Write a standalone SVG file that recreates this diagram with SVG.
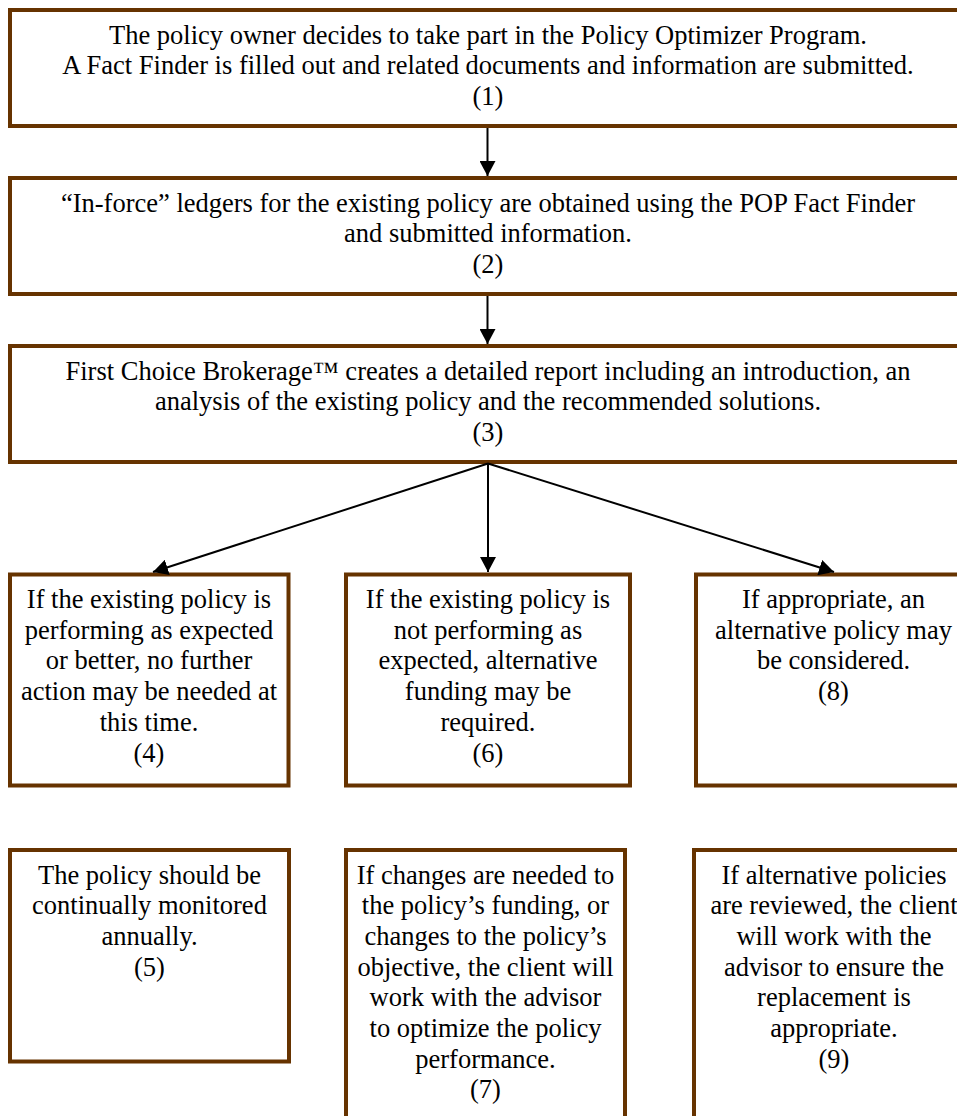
<svg xmlns="http://www.w3.org/2000/svg" width="957" height="1116" viewBox="0 0 957 1116">
<style>
.box{fill:#fff;stroke:#663300;stroke-width:4}
.t{font-family:"Liberation Serif","Times New Roman",serif;font-size:26.5px;fill:#000;text-anchor:middle}
.c{stroke:#000;stroke-width:2;fill:none;marker-end:url(#ah)}
</style>
<defs>
<marker id="ah" markerUnits="userSpaceOnUse" markerWidth="16" markerHeight="16" refX="15" refY="8" orient="auto">
<path d="M0,0 L15,8 L0,16 z" fill="#000"/>
</marker>
</defs>
<rect width="957" height="1116" fill="#fff"/>
<g id="n1">
<rect class="box" x="10" y="10" width="956" height="116"/>
<text class="t" x="488" y="43.5">The policy owner decides to take part in the Policy Optimizer Program.</text>
<text class="t" x="488" y="74.2">A Fact Finder is filled out and related documents and information are submitted.</text>
<text class="t" x="488" y="104.9">(1)</text>
</g>
<g id="n2">
<rect class="box" x="10" y="178" width="956" height="116"/>
<text class="t" x="488" y="211.5">“In-force” ledgers for the existing policy are obtained using the POP Fact Finder</text>
<text class="t" x="488" y="242.2">and submitted information.</text>
<text class="t" x="488" y="272.9">(2)</text>
</g>
<g id="n3">
<rect class="box" x="10" y="346" width="956" height="116"/>
<text class="t" x="488" y="379.5">First Choice Brokerage™ creates a detailed report including an introduction, an</text>
<text class="t" x="488" y="410.2">analysis of the existing policy and the recommended solutions.</text>
<text class="t" x="488" y="440.9">(3)</text>
</g>
<g id="n4">
<rect class="box" x="10" y="574.5" width="278.5" height="211"/>
<text class="t" x="149" y="608">If the existing policy is</text>
<text class="t" x="149" y="638.7">performing as expected</text>
<text class="t" x="149" y="669.4">or better, no further</text>
<text class="t" x="149" y="700.1">action may be needed at</text>
<text class="t" x="149" y="730.8">this time.</text>
<text class="t" x="149" y="761.5">(4)</text>
</g>
<g id="n6">
<rect class="box" x="346" y="574.5" width="284" height="211"/>
<text class="t" x="488" y="608">If the existing policy is</text>
<text class="t" x="488" y="638.7">not performing as</text>
<text class="t" x="488" y="669.4">expected, alternative</text>
<text class="t" x="488" y="700.1">funding may be</text>
<text class="t" x="488" y="730.8">required.</text>
<text class="t" x="488" y="761.5">(6)</text>
</g>
<g id="n8">
<rect class="box" x="696" y="574.5" width="275" height="211"/>
<text class="t" x="833.5" y="608">If appropriate, an</text>
<text class="t" x="833.5" y="638.7">alternative policy may</text>
<text class="t" x="833.5" y="669.4">be considered.</text>
<text class="t" x="833.5" y="700.1">(8)</text>
</g>
<g id="n5">
<rect class="box" x="10" y="850" width="279" height="211.5"/>
<text class="t" x="149.5" y="883.5">The policy should be</text>
<text class="t" x="149.5" y="914.2">continually monitored</text>
<text class="t" x="149.5" y="944.9">annually.</text>
<text class="t" x="149.5" y="975.6">(5)</text>
</g>
<g id="n7">
<rect class="box" x="346" y="850" width="279" height="290"/>
<text class="t" x="485.5" y="883.5">If changes are needed to</text>
<text class="t" x="485.5" y="914.2">the policy’s funding, or</text>
<text class="t" x="485.5" y="944.9">changes to the policy’s</text>
<text class="t" x="485.5" y="975.6">objective, the client will</text>
<text class="t" x="485.5" y="1006.3">work with the advisor</text>
<text class="t" x="485.5" y="1037">to optimize the policy</text>
<text class="t" x="485.5" y="1067.7">performance.</text>
<text class="t" x="485.5" y="1098.4">(7)</text>
</g>
<g id="n9">
<rect class="box" x="694" y="850" width="280" height="290"/>
<text class="t" x="834" y="883.5">If alternative policies</text>
<text class="t" x="834" y="914.2">are reviewed, the client</text>
<text class="t" x="834" y="944.9">will work with the</text>
<text class="t" x="834" y="975.6">advisor to ensure the</text>
<text class="t" x="834" y="1006.3">replacement is</text>
<text class="t" x="834" y="1037">appropriate.</text>
<text class="t" x="834" y="1067.7">(9)</text>
</g>
<g id="connectors">
<line class="c" x1="487.5" y1="128" x2="487.5" y2="176"/>
<line class="c" x1="487.5" y1="296" x2="487.5" y2="344"/>
<line class="c" x1="488" y1="463.5" x2="153" y2="572"/>
<line class="c" x1="488" y1="463.5" x2="488" y2="572"/>
<line class="c" x1="488" y1="463.5" x2="834" y2="572"/>
</g>
</svg>
